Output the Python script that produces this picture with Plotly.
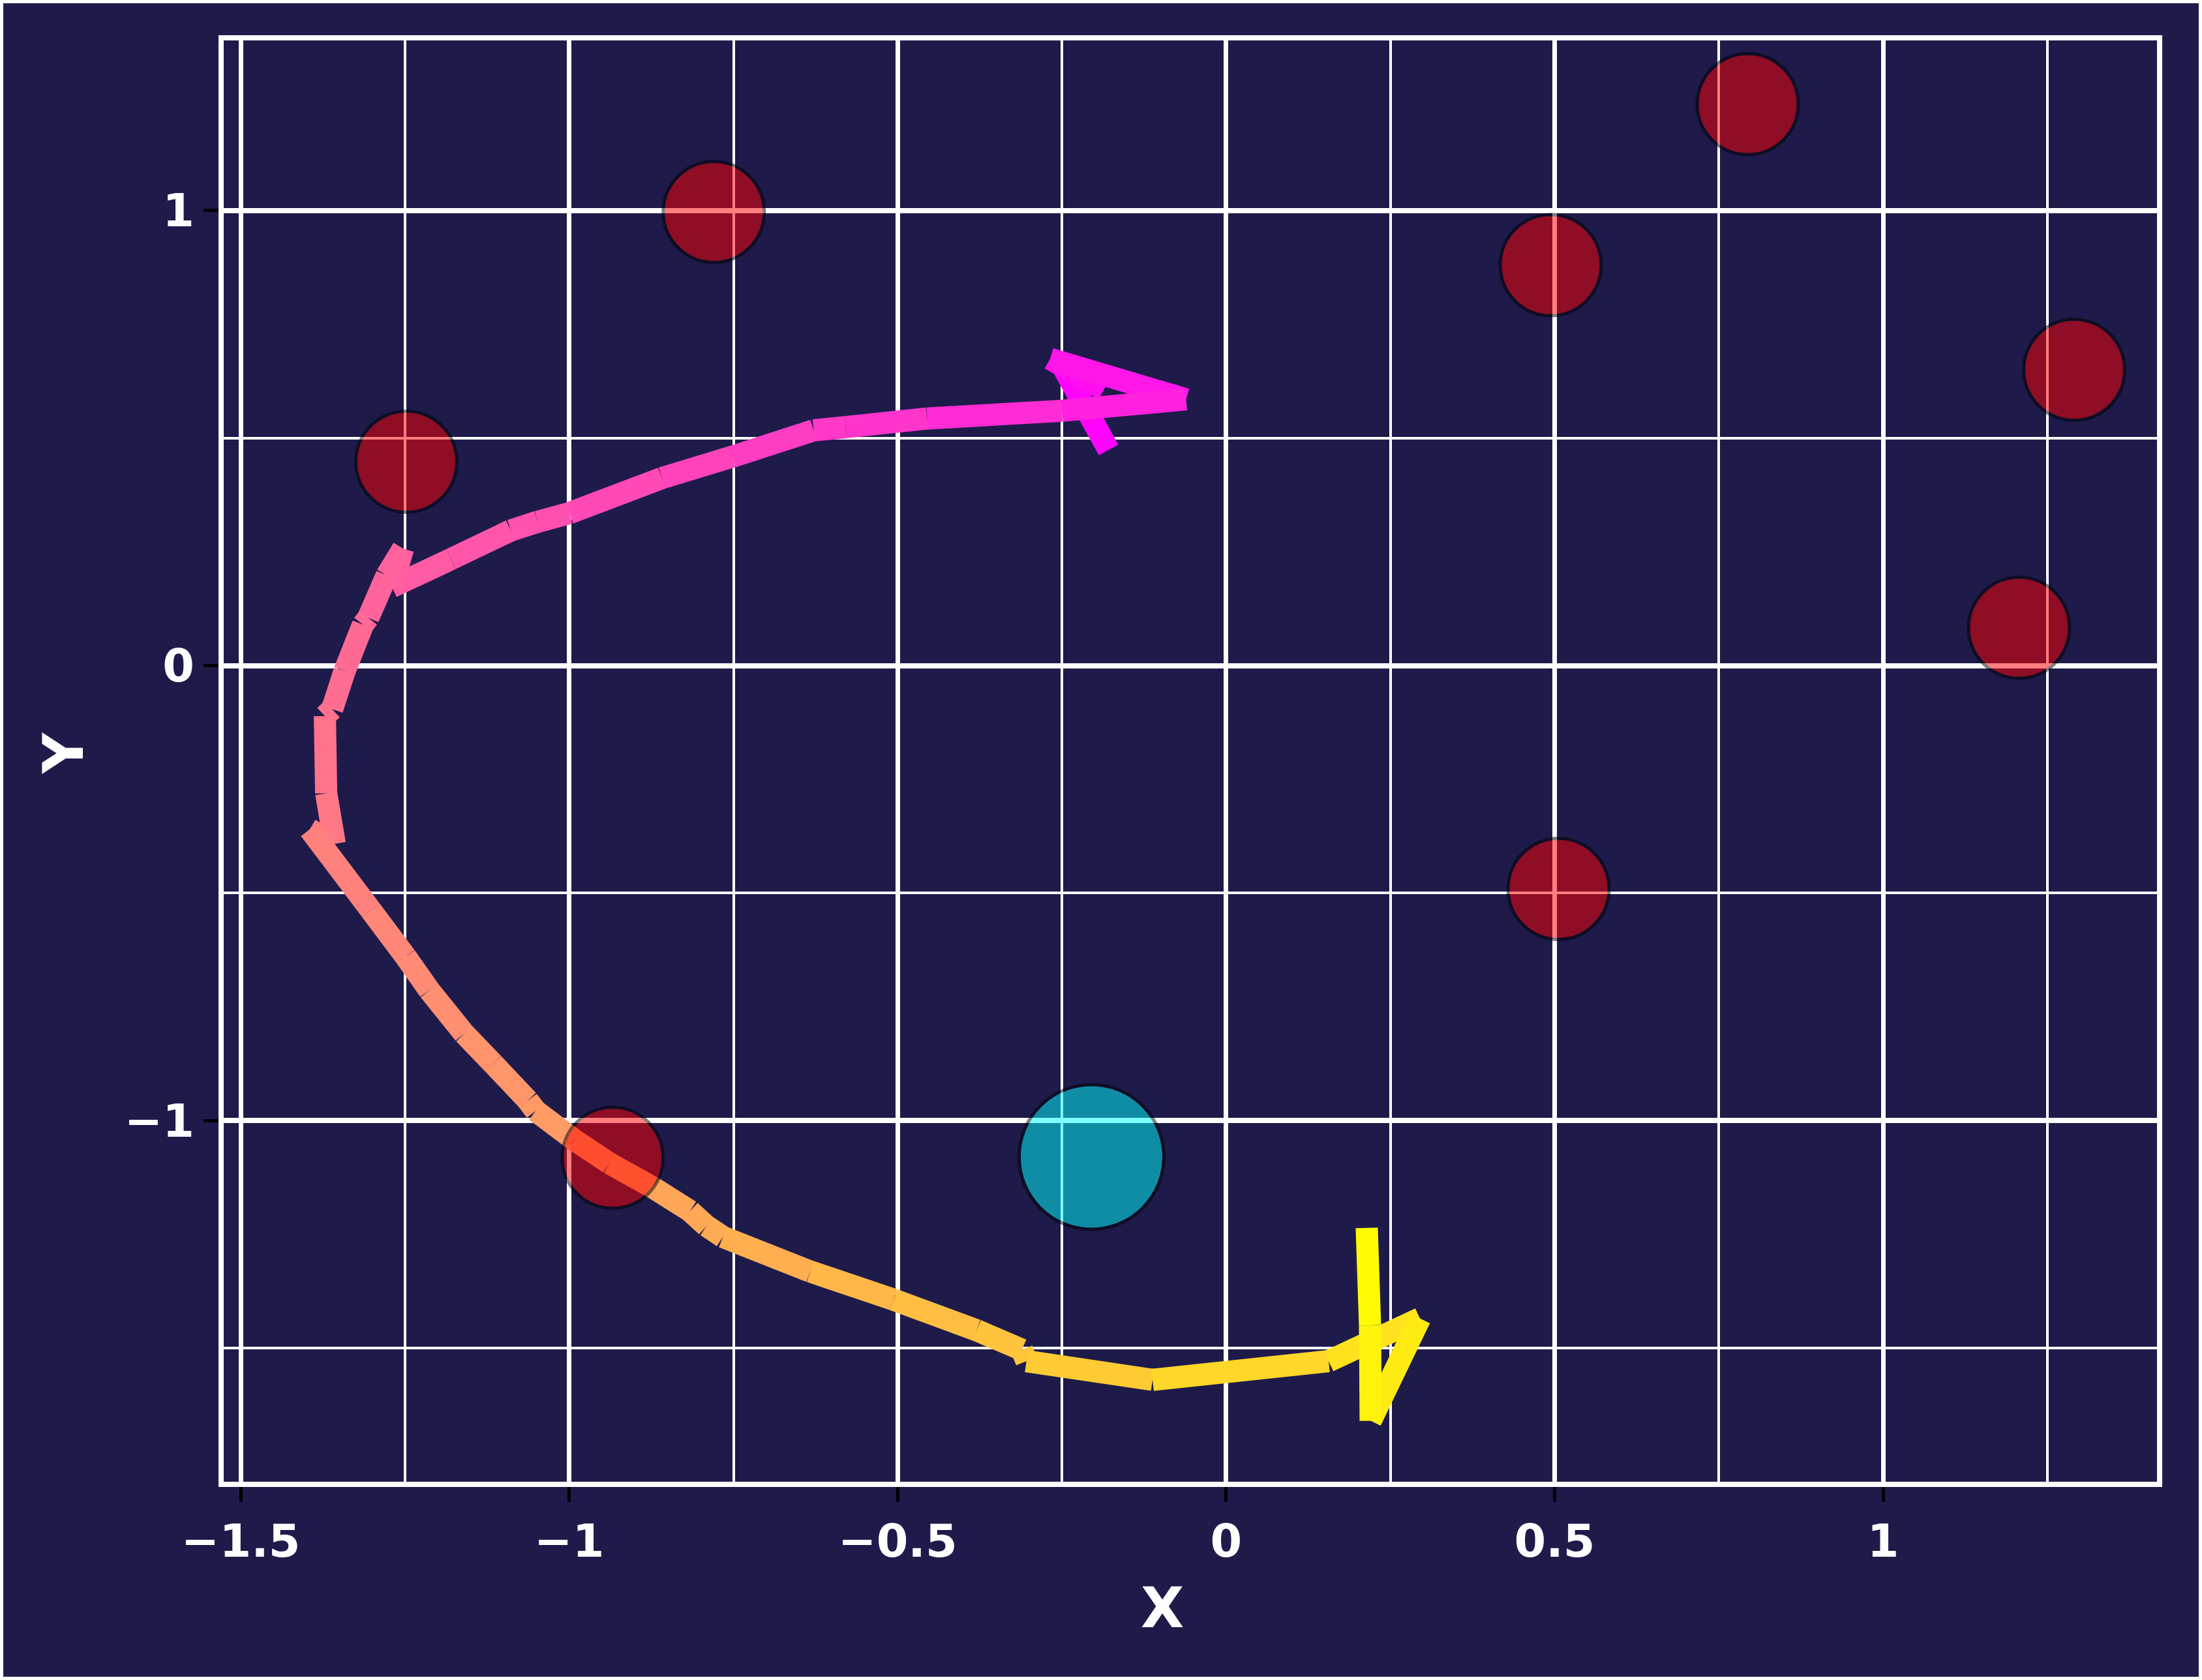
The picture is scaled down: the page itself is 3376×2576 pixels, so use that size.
import plotly.graph_objects as go
import numpy as np

# ---------------- data ----------------
# trajectory, in drawing order (start = magenta, end = yellow)
path_x = [-0.179, -0.250, -0.186, -0.268, -0.061, -0.250, -0.455, -0.579, -0.628, -0.752,
          -0.859, -1.000, -1.048, -1.089, -1.180, -1.270, -1.253, -1.278, -1.306, -1.314,
          -1.342, -1.361, -1.372, -1.370, -1.357, -1.395, -1.302, -1.249, -1.213, -1.160,
          -1.116, -1.063, -1.051, -0.992, -0.939, -0.873, -0.816, -0.791, -0.766, -0.633,
          -0.506, -0.380, -0.311, -0.304, -0.112, 0.156, 0.295, 0.220, 0.219, 0.214]
path_y = [0.474, 0.660, 0.607, 0.674, 0.585, 0.560, 0.543, 0.524, 0.517, 0.459,
          0.412, 0.335, 0.316, 0.297, 0.234, 0.173, 0.257, 0.198, 0.105, 0.090,
          -0.012, -0.096, -0.111, -0.281, -0.392, -0.360, -0.538, -0.640, -0.714, -0.809,
          -0.875, -0.956, -0.979, -1.043, -1.094, -1.147, -1.199, -1.232, -1.256, -1.332,
          -1.394, -1.461, -1.504, -1.529, -1.570, -1.529, -1.435, -1.660, -1.450, -1.236]

obstacle_x = [-0.780, -1.248, 0.794, 0.494, 1.291, 1.207, 0.506, -0.934]
obstacle_y = [0.997, 0.448, 1.234, 0.880, 0.650, 0.083, -0.491, -1.082]

goal_x = [-0.205]
goal_y = [-1.080]

x_tickvals = [-1.5, -1, -0.5, 0, 0.5, 1]
x_ticktext = ["−1.5", "−1", "−0.5", "0", "0.5", "1"]
y_tickvals = [-1, 0, 1]
y_ticktext = ["−1", "0", "1"]

# ---------------- style ----------------
BG = "#1E1B4B"
W, H = 3376, 2576
ML, MR, MT, MB = 343, 69, 62, 304
XR = [-1.526, 1.417]
YR = [-1.794, 1.374]

fig = go.Figure()

# gradient trajectory ("spring" colormap along the path)
px_per_x = (W - ML - MR) / (XR[1] - XR[0])
px_per_y = (H - MT - MB) / (YR[1] - YR[0])
xs = np.array(path_x)
ys = np.array(path_y)
seg = np.hypot(np.diff(xs) * px_per_x, np.diff(ys) * px_per_y)
cum = np.concatenate([[0], np.cumsum(seg)])
total = cum[-1]
for i in range(len(xs) - 1):
    t = (cum[i] + cum[i + 1]) / 2 / total
    col = "rgb(255,%d,%d)" % (round(255 * t), round(255 * (1 - t)))
    fig.add_trace(go.Scatter(
        x=[xs[i], xs[i + 1]], y=[ys[i], ys[i + 1]], mode="lines",
        line=dict(color=col, width=34), hoverinfo="skip", showlegend=False))

# obstacles
fig.add_trace(go.Scatter(
    x=obstacle_x, y=obstacle_y, mode="markers", showlegend=False,
    marker=dict(size=155, color="red", opacity=0.5,
                line=dict(color="black", width=5))))

# goal
fig.add_trace(go.Scatter(
    x=goal_x, y=goal_y, mode="markers", showlegend=False,
    marker=dict(size=222, color="cyan", opacity=0.5,
                line=dict(color="black", width=5))))

tickfont = dict(family="DejaVu Sans", size=70, color="white", weight="bold")

fig.update_xaxes(
    range=XR, tickvals=x_tickvals, ticktext=x_ticktext, tickfont=tickfont,
    showgrid=True, gridcolor="white", gridwidth=7, zeroline=False,
    minor=dict(dtick=0.25, tick0=0, showgrid=True, gridcolor="white", gridwidth=4),
    showline=True, linecolor="white", linewidth=8, mirror=True,
    ticks="outside", ticklen=23, tickwidth=5, tickcolor="black",
)
fig.update_yaxes(
    range=YR, tickvals=y_tickvals, ticktext=y_ticktext, tickfont=tickfont,
    showgrid=True, gridcolor="white", gridwidth=8, zeroline=False,
    minor=dict(dtick=0.5, tick0=0, showgrid=True, gridcolor="white", gridwidth=4),
    showline=True, linecolor="white", linewidth=8, mirror=True,
    ticks="outside", ticklen=23, tickwidth=5, tickcolor="black",
)

pw = W - ML - MR
ph = H - MT - MB
fig.update_layout(
    width=W, height=H, autosize=False,
    margin=dict(l=ML, r=MR, t=MT, b=MB, pad=0),
    paper_bgcolor=BG, plot_bgcolor=BG,
    annotations=[
        dict(text="<b>X</b>", xref="paper", yref="paper",
             x=(1782 - ML) / pw, y=(H - MB - 2465) / ph,
             xanchor="center", yanchor="middle", showarrow=False,
             font=dict(family="DejaVu Sans", size=86, color="white")),
        dict(text="<b>Y</b>", xref="paper", yref="paper",
             x=(97 - ML) / pw, y=(H - MB - 1154) / ph, textangle=-90,
             xanchor="center", yanchor="middle", showarrow=False,
             font=dict(family="DejaVu Sans", size=86, color="white")),
    ],
    shapes=[
        dict(type="rect", xref="paper", yref="paper", layer="above",
             x0=-ML / pw, x1=(W - ML) / pw, y0=-MB / ph, y1=(H - MB) / ph,
             line=dict(color="white", width=10), fillcolor="rgba(0,0,0,0)"),
    ],
)

fig.write_html("out.html", config={"displayModeBar": False},
               post_script="document.body.style.margin='0px';document.body.style.overflow='hidden';")
